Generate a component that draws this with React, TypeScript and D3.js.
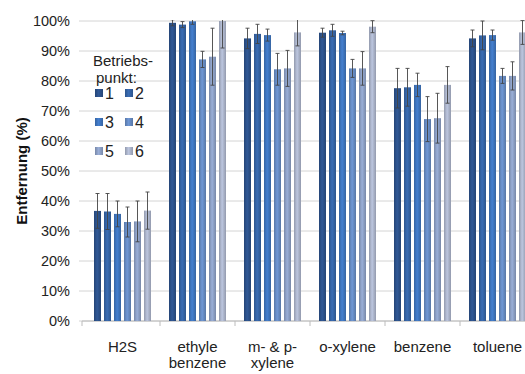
import React from 'react';
import * as d3 from 'd3';

const categories = ['H2S', 'ethyle\nbenzene', 'm- & p-\nxylene', 'o-xylene', 'benzene', 'toluene'];
const series = ['1', '2', '3', '4', '5', '6'];

// removal in % per Betriebspunkt, one row per category
const values = [
  [36.7, 36.5, 35.7, 33.0, 33.2, 36.8],
  [99.4, 98.8, 99.9, 87.2, 88.1, 100.0],
  [94.2, 95.7, 95.3, 83.9, 84.2, 96.2],
  [96.1, 96.9, 96.0, 84.2, 84.2, 98.1],
  [77.6, 77.9, 78.7, 67.3, 67.6, 78.7],
  [94.2, 95.2, 95.3, 81.7, 81.7, 96.2],
];
const errors = [
  [5.8, 6.0, 4.3, 5.0, 6.8, 6.2],
  [1.0, 1.0, 1.0, 2.7, 9.5, 9.0],
  [3.4, 3.2, 2.0, 5.3, 6.0, 4.5],
  [1.5, 2.0, 0.6, 3.0, 5.6, 2.0],
  [6.6, 6.3, 3.9, 7.5, 8.3, 6.1],
  [2.8, 4.8, 1.7, 2.5, 4.7, 4.0],
];
const yTicks = [0, 10, 20, 30, 40, 50, 60, 70, 80, 90, 100];

const colors = ['#2b5088', '#3462a3', '#3e73bb', '#6589c0', '#8a9dc2', '#a9b2c8'];

const W = 525;
const H = 374;
const left = 85;
const bandW = 75;
const top = 21;
const bottom = 321;
const font = "'Liberation Sans', Arial, sans-serif";

export default function App() {
  const x = d3.scaleBand().domain(categories).range([left, left + bandW * categories.length]);
  const xi = d3
    .scaleBand()
    .domain(series)
    .range([7.5, 67.5])
    .paddingInner(0.3)
    .paddingOuter(0.15);
  const y = d3.scaleLinear().domain([0, 100]).range([bottom, top]);

  return (
    <svg
      width={W}
      height={H}
      style={{ position: 'absolute', left: 0, top: 0, background: '#fff', fontFamily: font }}
    >
      <defs>
        {colors.map((c, i) => {
          const dark = d3.color(c)!.darker(0.4).toString();
          const light = d3.color(c)!.brighter(0.3).toString();
          return (
            <linearGradient key={i} id={`g${i}`} x1="0" x2="1" y1="0" y2="0">
              <stop offset="0%" stopColor={dark} />
              <stop offset="45%" stopColor={light} />
              <stop offset="100%" stopColor={dark} />
            </linearGradient>
          );
        })}
        <clipPath id="plot">
          <rect x={left - 5} y={top - 1} width={W} height={bottom - top + 1} />
        </clipPath>
      </defs>

      {/* grid + y ticks */}
      {yTicks.map((t) => (
        <g key={t}>
          <line x1={79} x2={W} y1={y(t)} y2={y(t)} stroke="#d4d4d4" strokeWidth={1} />
          <text x={70} y={y(t) + 5} textAnchor="end" fontSize={14.5} fill="#222">
            {t}%
          </text>
        </g>
      ))}

      {/* x axis */}
      <line x1={left - 3} x2={W} y1={bottom} y2={bottom} stroke="#bcbcbc" />
      {categories.map((c, i) => (
        <line
          key={c}
          x1={x(c)! + (i === 0 ? -3 : 0)}
          x2={x(c)! + (i === 0 ? -3 : 0)}
          y1={bottom}
          y2={bottom + 5}
          stroke="#bcbcbc"
        />
      ))}

      {/* legend */}
      <g fontSize={15} fill="#222">
        <text x={93} y={66}>Betriebs-</text>
        <text x={96} y={83}>punkt:</text>
        {series.map((s, i) => {
          const col = i % 2;
          const row = Math.floor(i / 2);
          const sx = 95 + col * 30;
          const sy = 89 + row * 29;
          return (
            <g key={s}>
              <rect x={sx} y={sy} width={8} height={8} fill={`url(#g${i})`} />
              <text x={sx + 10} y={sy + 10} fontSize={16}>{s}</text>
            </g>
          );
        })}
      </g>

      {/* bars */}
      <g clipPath="url(#plot)">
        {categories.map((c, ci) => (
          <g key={c} transform={`translate(${x(c)},0)`}>
            {series.map((s, si) => {
              const v = values[ci][si];
              const e = errors[ci][si];
              const bx = xi(s)!;
              const cx = bx + xi.bandwidth() / 2;
              return (
                <g key={s}>
                  <rect
                    x={bx}
                    y={y(v)}
                    width={xi.bandwidth()}
                    height={y(0) - y(v)}
                    fill={`url(#g${si})`}
                  />
                  <line x1={cx} x2={cx} y1={y(v + e)} y2={y(v - e)} stroke="#444" strokeWidth={0.9} />
                  <line x1={cx - 2} x2={cx + 2} y1={y(v + e)} y2={y(v + e)} stroke="#444" strokeWidth={0.9} />
                  <line x1={cx - 2} x2={cx + 2} y1={y(v - e)} y2={y(v - e)} stroke="#444" strokeWidth={0.9} />
                </g>
              );
            })}
          </g>
        ))}
      </g>

      {/* category labels */}
      {categories.map((c) => {
        const lines = c.split('\n');
        return (
          <text
            key={c}
            x={x(c)! + bandW / 2}
            y={352}
            textAnchor="middle"
            fontSize={15}
            fill="#222"
          >
            {lines.map((l, k) => (
              <tspan key={k} x={x(c)! + bandW / 2} dy={k === 0 ? 0 : 16}>
                {l}
              </tspan>
            ))}
          </text>
        );
      })}

      {/* y title */}
      <text
        transform={`translate(27,${(top + bottom) / 2}) rotate(-90)`}
        textAnchor="middle"
        fontSize={15}
        fontWeight="bold"
        fill="#111"
      >
        Entfernung (%)
      </text>
    </svg>
  );
}
